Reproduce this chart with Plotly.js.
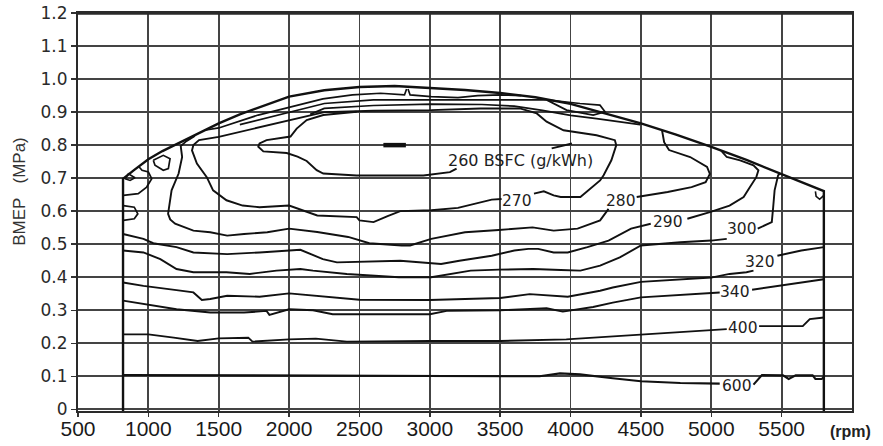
<!DOCTYPE html>
<html><head><meta charset="utf-8">
<script src="https://cdn.plot.ly/plotly-3.0.1.min.js"></script>
<style>html,body{margin:0;padding:0;background:#fff;}#chart{width:883px;height:446px;}</style>
</head><body><div id="chart"></div>
<script>
// ---- axis ticks ----
const rpmTicks = [500,1000,1500,2000,2500,3000,3500,4000,4500,5000,5500];
const rpmTickText = ['500','1000','1500','2000','2500','3000','3500','4000','4500','5000','5500'];
const bmepTicks = [0,0.1,0.2,0.3,0.4,0.5,0.6,0.7,0.8,0.9,1.0,1.1,1.2];
const bmepTickText = ['0','0.1','0.2','0.3','0.4','0.5','0.6','0.7','0.8','0.9','1.0','1.1','1.2'];

// ---- full-load envelope with side limits ----
const envRpm  = [820,820,900,1000,1100,1200,1350,1500,1650,1800,2000,2250,2500,2750,3000,3250,3500,3750,4000,4250,4500,4750,5000,5250,5500,5650,5800,5800];
const envBmep = [-0.005,0.698,0.725,0.757,0.782,0.803,0.835,0.866,0.893,0.917,0.947,0.966,0.976,0.979,0.974,0.967,0.958,0.945,0.925,0.895,0.866,0.832,0.795,0.755,0.713,0.688,0.661,-0.005];
const cornerRpm  = [5740,5745,5770,5800];
const cornerBmep = [0.660,0.645,0.636,0.648];

// ---- BSFC iso-lines (g/kWh) ----
const c600Rpm  = [820,1500,2000,2500,3000,3500,3780,3925,4067,4300,4500,4780,5060,null,5300,5360,5510,5550,5600,5720,5740,5785,5800];
const c600Bmep = [0.104,0.103,0.101,0.100,0.100,0.100,0.100,0.109,0.106,0.094,0.085,0.080,0.078,null,0.075,0.104,0.103,0.092,0.103,0.103,0.092,0.092,0.098];

const c400Rpm  = [820,1000,1180,1350,1500,1710,1740,2000,2190,2410,3000,3500,3970,4160,4500,4780,5110,null,5340,5650,5700,5800];
const c400Bmep = [0.227,0.227,0.217,0.207,0.215,0.217,0.205,0.212,0.214,0.205,0.207,0.207,0.212,0.217,0.227,0.234,0.243,null,0.252,0.252,0.273,0.278];

const c340Rpm  = [820,965,1200,1440,1680,1840,1860,2000,2170,2310,2500,3000,3120,3500,3830,3945,4160,4300,4500,4780,5060,null,5290,5490,5800];
const c340Bmep = [0.329,0.319,0.303,0.293,0.293,0.298,0.286,0.303,0.300,0.288,0.288,0.288,0.298,0.300,0.306,0.296,0.310,0.323,0.339,0.347,0.354,null,0.362,0.374,0.394];

const c320Rpm  = [820,965,1200,1320,1380,1440,1560,1790,2000,2170,2500,3000,3500,3710,3980,4210,4300,4500,4780,5000,5130,5250,5300,null,5470,5640,5800];
const c320Bmep = [0.384,0.374,0.361,0.354,0.331,0.334,0.344,0.341,0.351,0.344,0.332,0.331,0.337,0.349,0.341,0.359,0.369,0.386,0.394,0.399,0.410,0.415,0.420,null,0.465,0.481,0.491];

const c300Rpm  = [820,965,1085,1200,1320,1555,1720,1910,2080,2170,2410,2780,3010,3290,3490,3735,3930,4070,4210,4350,4500,4780,5000,5110,null,5330,5430,5440,5450,5475,5490];
const c300Bmep = [0.481,0.475,0.455,0.425,0.415,0.415,0.410,0.420,0.425,0.420,0.410,0.400,0.400,0.420,0.423,0.425,0.422,0.420,0.435,0.460,0.496,0.506,0.511,0.516,null,0.547,0.567,0.612,0.663,0.709,0.714];

const c290Rpm  = [820,965,1035,1200,1320,1560,1790,2080,2240,2340,2790,3080,3210,3440,3600,3700,3770,3880,3980,4120,4270,4360,4430,4570,null,4830,4990,5130,5230,5275,5320,5335,5300,5205,5110,5070];
const c290Bmep = [0.531,0.516,0.503,0.491,0.475,0.470,0.475,0.483,0.455,0.445,0.450,0.440,0.450,0.465,0.481,0.486,0.486,0.475,0.475,0.491,0.511,0.531,0.547,0.562,null,0.577,0.597,0.617,0.643,0.673,0.703,0.724,0.739,0.754,0.764,0.783];

const c280Rpm  = [1330,1270,1230,1240,1215,1165,1140,1155,1190,1320,1440,1560,1680,1845,2000,2200,2420,2570,2800,2860,3010,3250,3490,3730,3880,4050,4210,4270,null,4470,4690,4860,4960,4990,4970,4850,4700,4665,4650];
const c280Bmep = [0.828,0.812,0.797,0.764,0.714,0.663,0.592,0.575,0.562,0.541,0.536,0.526,0.531,0.536,0.547,0.537,0.522,0.503,0.496,0.496,0.516,0.536,0.543,0.551,0.541,0.547,0.572,0.607,null,0.643,0.658,0.673,0.688,0.713,0.734,0.764,0.785,0.809,0.845];

const c270Rpm  = [3740,3810,3880,3930,4070,4140,4210,4235,4290,4325,4315,4185,3950,3830,3760,3640,3360,3010,2600,2250,2060,1780,1500,1360,1320,1310,1345,1415,1460,1555,1670,1790,2000,2200,2480,2500,2600,2700,2790,3010,3200,3440,3510];
const c270Bmep = [0.653,0.660,0.648,0.643,0.643,0.668,0.693,0.709,0.754,0.800,0.815,0.830,0.845,0.871,0.896,0.911,0.911,0.906,0.904,0.900,0.881,0.855,0.825,0.815,0.800,0.784,0.744,0.703,0.663,0.633,0.617,0.612,0.617,0.587,0.582,0.572,0.567,0.585,0.600,0.603,0.610,0.635,0.637];

const c260Rpm  = [2480,2243,2125,2054,2010,1840,1790,1781,1817,1983,2060,2125,2196,2243,2480,2954,3143,3190,null,3866,4010];
const c260Bmep = [0.901,0.891,0.876,0.850,0.826,0.815,0.805,0.795,0.781,0.776,0.765,0.752,0.724,0.714,0.708,0.708,0.718,0.729,null,0.790,0.805];
const coreRpm  = [2670,2830];
const coreBmep = [0.800,0.800];

// bands just below the full-load line
const bandARpm  = [1400,1500,1780,2060,2240,2450,2640,2650,2820,2835];
const bandABmep = [0.845,0.852,0.891,0.921,0.940,0.952,0.957,0.957,0.952,0.970];
const bandBRpm  = [2845,2860,3010,3200,3340,3500,3650];
const bandBBmep = [0.970,0.952,0.947,0.944,0.950,0.952,0.950];
const bandCRpm  = [1650,2000,2250,2600,3010,3370,3600,3830,3972,4161,4245,4209,4067,3949,3830];
const bandCBmep = [0.862,0.898,0.926,0.937,0.937,0.937,0.935,0.937,0.906,0.891,0.901,0.921,0.926,0.931,0.937];
const bandDRpm  = [2150,2250,2600,3010,3370,3600,3800,4000,4185,4350,4494];
const bandDBmep = [0.893,0.911,0.920,0.924,0.923,0.918,0.905,0.890,0.880,0.871,0.862];

// small islands near low speed / full load
const islandARpm  = [834,858,905,870,834];
const islandABmep = [0.698,0.713,0.701,0.693,0.698];
const islandBRpm  = [930,955,1000,1024,988,928,822];
const islandBBmep = [0.736,0.724,0.719,0.698,0.673,0.653,0.648];
const islandCRpm  = [1035,1106,1154,1142,1106,1047,1035];
const islandCBmep = [0.754,0.769,0.759,0.729,0.724,0.739,0.754];
const islandDRpm  = [822,900,925,900,822];
const islandDBmep = [0.617,0.612,0.592,0.577,0.572];

// ---- contour labels ----
const labelText = ['260 BSFC (g/kWh)','270','280','290','300','320','340','400','600'];
const labelRpm  = [3641,3620,4359,4693,5218,5346,5169,5225,5183];
const labelBmep = [0.754,0.632,0.632,0.567,0.546,0.445,0.354,0.245,0.072];

function iso(x, y, w) {
  return {type:'scatter', mode:'lines', x:x, y:y, connectgaps:false,
          line:{color:'#111', width:w || 1.9}, hoverinfo:'skip', showlegend:false};
}

const traces = [
  iso(envRpm, envBmep, 2.4), iso(cornerRpm, cornerBmep, 1.6),
  iso(c600Rpm, c600Bmep, 2.1), iso(c400Rpm, c400Bmep), iso(c340Rpm, c340Bmep),
  iso(c320Rpm, c320Bmep), iso(c300Rpm, c300Bmep), iso(c290Rpm, c290Bmep),
  iso(c280Rpm, c280Bmep), iso(c270Rpm, c270Bmep), iso(c260Rpm, c260Bmep),
  iso(coreRpm, coreBmep, 4.5),
  iso(bandARpm, bandABmep, 1.7), iso(bandBRpm, bandBBmep, 1.7),
  iso(bandCRpm, bandCBmep, 1.7), iso(bandDRpm, bandDBmep, 1.7),
  iso(islandARpm, islandABmep, 1.6), iso(islandBRpm, islandBBmep, 1.7),
  iso(islandCRpm, islandCBmep, 1.7), iso(islandDRpm, islandDBmep, 1.7)
];

const annotations = labelText.map((t, i) => ({
  x: labelRpm[i], y: labelBmep[i], xref:'x', yref:'y', text:t, showarrow:false,
  xanchor:'center', yanchor:'middle',
  font:{family:'DejaVu Sans, Arial, sans-serif', size: i === 0 ? 16 : 15.5, color:'#1e1e1e'}
}));
annotations.push({
  x:-0.075, y:0.553, xref:'paper', yref:'paper', text:'BMEP\u00a0\u00a0\u00a0(MPa)',
  textangle:-90, showarrow:false, xanchor:'center', yanchor:'middle',
  font:{family:'Liberation Sans, Arial, sans-serif', size:17, color:'#333'}
});
annotations.push({
  x:0.9987, y:-0.052, xref:'paper', yref:'paper', text:'<b>(rpm)</b>',
  showarrow:false, xanchor:'center', yanchor:'middle',
  font:{family:'Liberation Sans, Arial, sans-serif', size:16, color:'#222'}
});

const layout = {
  width:883, height:446,
  margin:{l:78, r:31, t:13, b:35, pad:0},
  paper_bgcolor:'#fff', plot_bgcolor:'#fff',
  showlegend:false,
  xaxis:{
    range:[500,6000], tickvals:rpmTicks, ticktext:rpmTickText,
    showgrid:true, gridcolor:'#444', gridwidth:1.8, zeroline:false,
    showline:true, mirror:true, linecolor:'#2a2a2a', linewidth:2,
    ticks:'outside', ticklen:4, tickwidth:1.5, tickcolor:'#333',
    ticklabelstandoff:-6,
    tickfont:{family:'Liberation Sans, Arial, sans-serif', size:21, color:'#1a1a1a'},
    fixedrange:true
  },
  yaxis:{
    range:[-0.005,1.2], tickvals:bmepTicks, ticktext:bmepTickText,
    showgrid:true, gridcolor:'#444', gridwidth:1.8, zeroline:false,
    showline:true, mirror:true, linecolor:'#2a2a2a', linewidth:2,
    ticks:'outside', ticklen:5, tickwidth:1.5, tickcolor:'#333',
    tickfont:{family:'DejaVu Sans, Arial, sans-serif', size:17, color:'#2a2a2a'},
    fixedrange:true
  },
  shapes:[{type:'line', xref:'paper', yref:'paper', x0:0, x1:1, y0:1, y1:1,
           line:{color:'#2a2a2a', width:3.5}}],
  annotations:annotations
};

Plotly.newPlot('chart', traces, layout, {staticPlot:true, displayModeBar:false});
</script>
</body></html>
